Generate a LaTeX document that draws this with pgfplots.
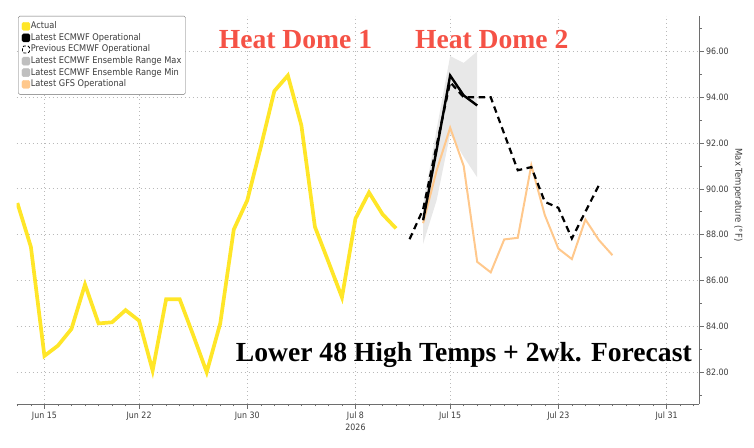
\documentclass[border=0pt]{standalone}
\usepackage{pgfplots}
\pgfplotsset{compat=1.18}
\usepgfplotslibrary{fillbetween}
\usepackage{fontspec}
\setmainfont{Liberation Serif}
\newfontfamily\labfont[FakeStretch=0.9]{DejaVu Sans}
\definecolor{actc}{RGB}{255,230,40}
\definecolor{gfsc}{RGB}{255,200,140}
\definecolor{ensc}{RGB}{232,232,232}
\definecolor{redc}{RGB}{245,82,70}
\definecolor{gridc}{RGB}{185,185,185}
\definecolor{axc}{RGB}{110,110,110}
\definecolor{txc}{RGB}{60,60,60}

\pgfplotstableread{
d v
13 89.38
14 87.46
15 82.70
16 83.15
17 83.88
18 85.82
19 84.12
20 84.17
21 84.70
22 84.24
23 82.06
24 85.18
25 85.18
26 83.61
27 81.99
28 84.12
29 88.22
30 89.50
31 91.83
32 94.27
33 94.95
34 92.77
35 88.34
36 86.81
37 85.26
38 88.70
39 89.84
40 88.89
41 88.27
}\actual

\pgfplotstableread{
d v
43 88.63
44 91.70
45 94.95
46 94.08
47 93.64
}\latest

\pgfplotstableread{
d v
42 87.80
43 89.10
44 91.90
45 94.66
46 94.00
47 94.00
48 94.00
49 92.40
50 90.81
51 90.95
52 89.43
53 89.17
54 87.83
55 89.00
56 90.16
}\previous

\pgfplotstableread{
d v
43 88.50
44 90.80
45 92.67
46 91.00
47 86.81
48 86.35
49 87.79
50 87.86
51 91.03
52 88.85
53 87.39
54 86.93
55 88.66
56 87.76
57 87.10
}\gfs

\pgfplotstableread{
d v
43 89.30
44 92.60
45 95.80
46 95.50
47 96.00
}\ensmax

\pgfplotstableread{
d v
43 87.60
44 89.50
45 92.40
46 91.40
47 90.50
}\ensmin

\begin{document}
\begin{tikzpicture}
\begin{axis}[
  at={(16.7bp,44bp)}, anchor=south west,
  scale only axis, width=682.3bp, height=388bp,
  xmin=12.95, xmax=63.4, ymin=80.6, ymax=97.55,
  axis x line*=bottom, axis y line*=right,
  axis line style={axc, line width=0.8bp},
  xtick={15,22,30,38,45,53,61},
  xticklabels={Jun 15,Jun 22,Jun 30,{Jul 8\\2026},Jul 15,Jul 23,Jul 31},
  xticklabel style={align=center, font=\labfont\fontsize{8.8}{11.5}\selectfont, text=txc},
  minor xtick={13,...,63},
  ytick={82,84,...,96},
  minor ytick={81,83,...,97},
  /pgf/number format/assume math mode=true,
  yticklabel style={font=\labfont\fontsize{8.8}{10}\selectfont, text=txc,
     /pgf/number format/fixed, /pgf/number format/fixed zerofill,
     /pgf/number format/precision=2, xshift=-1bp},
  tick style={axc, line width=0.6bp},
  major tick length=4.5bp, minor tick length=2.5bp,
  tick align=outside,
  grid=major,
  major grid style={gridc, dash pattern=on 1bp off 3bp, line width=0.7bp},
  legend style={at={(rel axis cs:0.002,1)}, anchor=north west,
     draw=axc, rounded corners=1.5bp, fill=white,
     font=\labfont\fontsize{9.2}{10}\selectfont, text=txc,
     inner xsep=3.5bp, inner ysep=4.5bp, row sep=0.4bp,
     nodes={inner sep=0.6bp, text height=7.5bp, text depth=2.5bp}},
  legend cell align=left,
]
\addplot[name path=up, draw=none, forget plot] table[x=d,y=v] {\ensmax};
\addplot[name path=lo, draw=none, forget plot] table[x=d,y=v] {\ensmin};
\addplot[ensc, forget plot] fill between[of=up and lo];
\addplot[actc, line width=3.7bp, forget plot] table[x=d,y=v] {\actual};
\addplot[gfsc, line width=2bp, forget plot] table[x=d,y=v] {\gfs};
\addplot[black, line width=2.4bp, forget plot] table[x=d,y=v] {\latest};
\addplot[black, dash pattern=on 6.5bp off 4.5bp, line width=2.2bp, forget plot] table[x=d,y=v] {\previous};

\addlegendimage{legend image code/.code={\fill[actc] (0bp,-4bp) rectangle (8bp,4bp);}}
\addlegendentry{Actual}
\addlegendimage{legend image code/.code={\fill[black] (0bp,-4bp) rectangle (8bp,4bp);}}
\addlegendentry{Latest ECMWF Operational}
\addlegendimage{legend image code/.code={\draw[black, line width=0.8bp, dash pattern=on 3bp off 2bp] (0.5bp,-3.5bp) rectangle (7.5bp,3.5bp);}}
\addlegendentry{Previous ECMWF Operational}
\addlegendimage{legend image code/.code={\fill[black!25] (0bp,-4bp) rectangle (8bp,4bp);}}
\addlegendentry{Latest ECMWF Ensemble Range Max}
\addlegendimage{legend image code/.code={\fill[black!25] (0bp,-4bp) rectangle (8bp,4bp);}}
\addlegendentry{Latest ECMWF Ensemble Range Min}
\addlegendimage{legend image code/.code={\fill[gfsc] (0bp,-4bp) rectangle (8bp,4bp);}}
\addlegendentry{Latest GFS Operational}
\end{axis}
\node[font=\bfseries\fontsize{27.7}{30}\selectfont, text=redc, anchor=base] at (295.5bp,399bp) {Heat Dome 1};
\node[font=\bfseries\fontsize{27.7}{30}\selectfont, text=redc, anchor=base] at (491.7bp,399bp) {Heat Dome 2};
\node[font=\bfseries\fontsize{27.7}{30}\selectfont, anchor=base] at (463.8bp,86.3bp) {Lower 48 High Temps + 2wk. Forecast};
\node[font=\labfont\fontsize{9.5}{10}\selectfont, rotate=-90, text=txc] at (738bp,253bp) {Max Temperature (°F)};
\pgfresetboundingbox
\useasboundingbox (0,0) rectangle (754bp,448bp);
\end{tikzpicture}
\end{document}
